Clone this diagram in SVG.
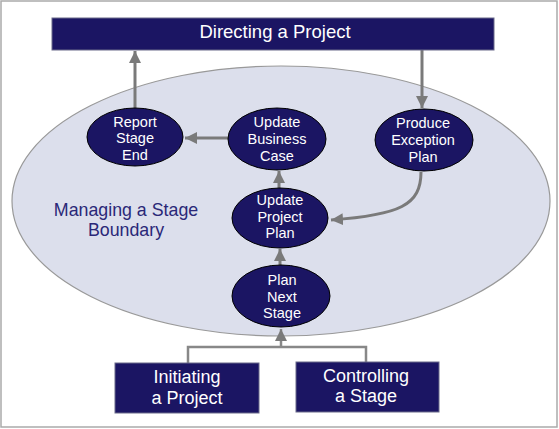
<svg xmlns="http://www.w3.org/2000/svg" width="559" height="429" viewBox="0 0 559 429">
<style>
.box{fill:#1b1563;stroke:#6a6a8a;stroke-width:1}
.node{fill:#1b1563;stroke:#000;stroke-width:1}
.lbl{font-family:"Liberation Sans",Arial,sans-serif;fill:#fff;text-anchor:middle}
.sm{font-size:14.5px}
.big{font-size:18px}
.conn{fill:none;stroke:#7a7a7a;stroke-width:3}
.thin{fill:none;stroke:#888;stroke-width:2.5}
</style>
<defs>
<marker id="ah" markerUnits="userSpaceOnUse" markerWidth="14" markerHeight="12" refX="12" refY="6" orient="auto">
<path d="M0,0 L12,6 L0,12 Z" fill="#7a7a7a"/>
</marker>
</defs>
<rect x="1" y="1" width="556" height="426" fill="#fff" stroke="#aaa" stroke-width="1.5"/>
<ellipse cx="281" cy="201" rx="269" ry="135" fill="#dcdfec" stroke="#999" stroke-width="1.2"/>
<text x="126" y="216" font-family="Liberation Sans,Arial,sans-serif" font-size="17.8" fill="#2a2878" text-anchor="middle">Managing a Stage</text>
<text x="126" y="236" font-family="Liberation Sans,Arial,sans-serif" font-size="17.8" fill="#2a2878" text-anchor="middle">Boundary</text>
<g id="connectors">
<line class="conn" x1="135" y1="108" x2="135" y2="51" marker-end="url(#ah)"/>
<line class="conn" x1="422" y1="50" x2="422" y2="108" marker-end="url(#ah)"/>
<line class="conn" x1="228" y1="138" x2="185" y2="138" marker-end="url(#ah)"/>
<line class="conn" x1="279" y1="188" x2="279" y2="171" marker-end="url(#ah)"/>
<path class="conn" d="M421,172 C421,205 400,215 331,220" marker-end="url(#ah)"/>
<line class="conn" x1="280" y1="265" x2="280" y2="249" marker-end="url(#ah)"/>
<polyline class="thin" points="188,363 188,347 366,347 366,362"/>
<line class="thin" x1="281" y1="347" x2="281" y2="329" marker-end="url(#ah)"/>
</g>
<g id="directing">
<rect class="box" x="52" y="18" width="442" height="32"/>
<text class="lbl" x="275" y="38" font-size="18.5">Directing a Project</text>
</g>
<g id="report">
<ellipse class="node" cx="135" cy="137" rx="48" ry="29"/>
<text class="lbl sm" x="135" y="126.5">Report</text>
<text class="lbl sm" x="135" y="143">Stage</text>
<text class="lbl sm" x="135" y="159.5">End</text>
</g>
<g id="business">
<ellipse class="node" cx="277" cy="139" rx="49" ry="31"/>
<text class="lbl sm" x="277" y="127">Update</text>
<text class="lbl sm" x="277" y="143.5">Business</text>
<text class="lbl sm" x="277" y="160.5">Case</text>
</g>
<g id="exception">
<ellipse class="node" cx="424" cy="140" rx="49" ry="31"/>
<text class="lbl sm" x="423" y="128">Produce</text>
<text class="lbl sm" x="423" y="144.5">Exception</text>
<text class="lbl sm" x="423" y="161.5">Plan</text>
</g>
<g id="projectplan">
<ellipse class="node" cx="280" cy="218" rx="48" ry="30"/>
<text class="lbl sm" x="280" y="205">Update</text>
<text class="lbl sm" x="280" y="221.5">Project</text>
<text class="lbl sm" x="280" y="238">Plan</text>
</g>
<g id="nextstage">
<ellipse class="node" cx="281" cy="296" rx="49" ry="31"/>
<text class="lbl sm" x="282" y="285">Plan</text>
<text class="lbl sm" x="282" y="301.5">Next</text>
<text class="lbl sm" x="282" y="318">Stage</text>
</g>
<g id="initiating">
<rect class="box" x="115" y="363" width="144" height="50"/>
<text class="lbl big" x="187" y="383">Initiating</text>
<text class="lbl big" x="187" y="404">a Project</text>
</g>
<g id="controlling">
<rect class="box" x="296" y="362" width="143" height="50"/>
<text class="lbl big" x="366" y="382">Controlling</text>
<text class="lbl big" x="366" y="402">a Stage</text>
</g>
</svg>
